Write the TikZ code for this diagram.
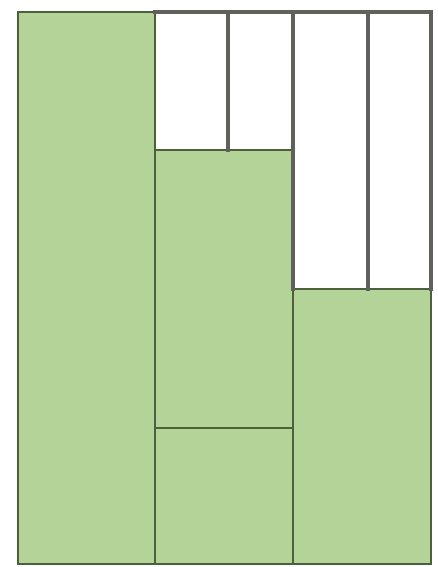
\documentclass[tikz,border=0pt]{standalone}
\usepackage{tikz}
\definecolor{leaf}{RGB}{180,211,152}
\definecolor{frame}{RGB}{96,96,92}
\definecolor{seam}{RGB}{76,96,60}

\begin{document}
\begin{tikzpicture}[x=0.75pt,y=-0.75pt,line cap=rect,line join=miter,
    seamline/.style={seam,line width=1.4pt},
    barline/.style={frame,line width=3.2pt}]
    \useasboundingbox (0,0) rectangle (437,567);
    % green boards
    \fill[leaf] (18,12) rectangle (155,564);
    \fill[leaf] (155,150) rectangle (293,564);
    \fill[leaf] (293,289) rectangle (431,564);
    % open slots
    \fill[white] (155,12) rectangle (293,150);
    \fill[white] (293,12) rectangle (431,289);
    % board edges
    \draw[seamline] (155,12) -- (18,12) -- (18,564) -- (431,564) -- (431,289);
    \foreach \x in {155,293} {
        \draw[seamline] (\x,12) -- (\x,564);
    }
    \foreach \xa/\xb/\y in {155/293/150,155/293/428,293/431/289} {
        \draw[seamline] (\xa,\y) -- (\xb,\y);
    }
    % slot bars
    \draw[barline] (155,12) -- (431,12) -- (431,289);
    \foreach \x/\y in {228/150,293/289,368/289} {
        \draw[barline] (\x,12) -- (\x,\y);
    }
\end{tikzpicture}
\end{document}
